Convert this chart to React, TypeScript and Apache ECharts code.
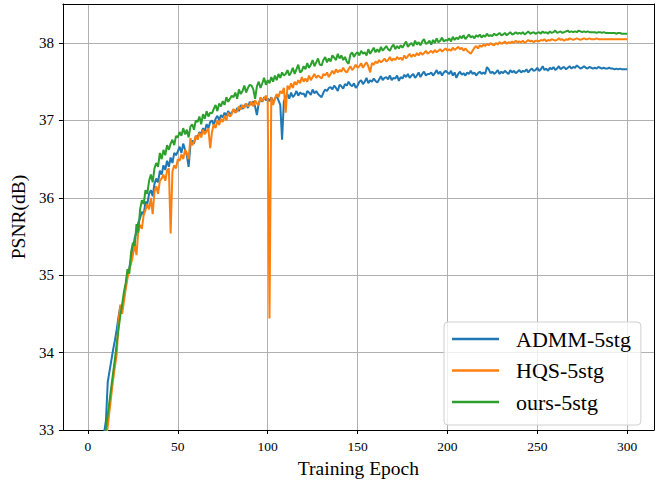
import React, { useEffect, useRef } from "react";
import * as echarts from "echarts";

// PSNR (dB) per training epoch, epochs 1..300
const admm: number[] = [
  30.2, 30.9, 31.5, 31.95, 32.3, 32.55, 32.75, 32.88, 32.97, 33.12,
  33.62, 33.76, 33.9, 34.04, 34.16, 34.3, 34.46, 34.6, 34.56, 34.72,
  34.86, 35.02, 35.1, 35.22, 35.34, 35.48, 35.56, 35.68, 35.74, 35.82,
  35.78, 35.95, 35.92, 36.05, 36.1, 36.02, 36.18, 36.25, 36.2, 36.35,
  36.3, 36.42, 36.36, 36.48, 36.4, 36.52, 36.45, 36.58, 36.55, 36.6,
  36.66, 36.58, 36.7, 36.62, 36.55, 36.4, 36.68, 36.74, 36.7, 36.8,
  36.78, 36.85, 36.82, 36.9, 36.86, 36.95, 36.9, 36.98, 37.0, 36.94,
  37.02, 37.06, 37.0, 37.07, 37.04, 37.1, 37.06, 37.12, 37.08, 37.1,
  37.14, 37.1, 37.16, 37.12, 37.2, 37.15, 37.18, 37.22, 37.16, 37.24,
  37.2, 37.25, 37.18, 37.07, 37.22, 37.28, 37.24, 37.3, 37.26, 37.28,
  37.25, 37.3, 37.22, 37.28, 37.32, 37.26, 37.2, 36.75, 37.25, 37.3,
  37.34, 37.28, 37.36, 37.3, 37.33, 37.38, 37.32, 37.36, 37.34, 37.35,
  37.3, 37.38, 37.36, 37.33, 37.4, 37.35, 37.38, 37.34, 37.32, 37.3,
  37.36, 37.4, 37.38, 37.42, 37.43, 37.4, 37.45, 37.42, 37.38, 37.46,
  37.44, 37.41, 37.47, 37.45, 37.5, 37.46, 37.44, 37.48, 37.42, 37.45,
  37.5, 37.52, 37.47, 37.5, 37.55, 37.48, 37.52, 37.5, 37.54, 37.51,
  37.49, 37.53, 37.57, 37.52, 37.55, 37.56, 37.53, 37.58, 37.52, 37.55,
  37.54, 37.58, 37.51, 37.56, 37.54, 37.59, 37.56, 37.6, 37.55, 37.58,
  37.6, 37.55, 37.58, 37.62, 37.56, 37.6, 37.63, 37.58, 37.6, 37.6,
  37.62, 37.58, 37.61, 37.65, 37.6, 37.63, 37.58, 37.62, 37.64, 37.62,
  37.6, 37.64, 37.58, 37.62, 37.55, 37.6, 37.63, 37.59, 37.61, 37.58,
  37.62, 37.6, 37.64, 37.6, 37.62, 37.58, 37.61, 37.63, 37.6, 37.62,
  37.6, 37.69, 37.66, 37.61, 37.63, 37.6, 37.62, 37.65, 37.6, 37.63,
  37.61, 37.64, 37.62, 37.6, 37.65, 37.62, 37.64, 37.61, 37.63, 37.65,
  37.62, 37.64, 37.63, 37.66, 37.62, 37.65, 37.67, 37.64, 37.65, 37.68,
  37.64, 37.66, 37.7, 37.65, 37.67, 37.64, 37.68, 37.66, 37.69, 37.65,
  37.67, 37.7, 37.66, 37.68, 37.69, 37.66, 37.68, 37.7, 37.67, 37.69,
  37.68, 37.71, 37.69, 37.67, 37.68, 37.7, 37.68, 37.67, 37.69, 37.68,
  37.67, 37.68, 37.67, 37.69, 37.68, 37.67, 37.68, 37.67, 37.67, 37.68,
  37.67, 37.67, 37.66, 37.67, 37.66, 37.67, 37.66, 37.66, 37.66, 37.66,
];

const hqs: number[] = [
  29.2, 30.0, 30.6, 31.1, 31.55, 31.9, 32.2, 32.45, 32.65, 32.85,
  33.05, 33.25, 33.45, 33.65, 33.82, 33.98, 34.4, 34.62, 34.5, 34.66,
  34.82, 34.96, 35.08, 35.15, 35.26, 35.4, 35.26, 35.58, 35.65, 35.6,
  35.78, 35.84, 35.92, 35.85, 36.0, 35.79, 36.08, 36.15, 36.05, 36.22,
  36.25, 36.3, 36.22, 36.35, 36.38, 35.54, 36.34, 36.42, 36.38, 36.5,
  36.48, 36.56, 36.5, 36.62, 36.58, 36.5, 36.77, 36.68, 36.72, 36.8,
  36.75, 36.84, 36.78, 36.88, 36.82, 36.86, 36.9, 36.64, 36.85, 36.95,
  36.9, 37.0, 36.94, 37.02, 36.98, 37.06, 37.0, 37.1, 37.05, 37.08,
  37.15, 37.1, 37.12, 37.18, 37.14, 37.2, 37.16, 37.22, 37.18, 37.2,
  37.24, 37.18, 37.26, 37.22, 37.2, 37.3, 37.25, 37.28, 37.32, 37.26,
  34.44, 37.3, 37.2, 37.28, 37.34, 37.3, 37.38, 37.35, 37.42, 37.1,
  37.45, 37.4, 37.48, 37.42, 37.5, 37.46, 37.52, 37.48, 37.56, 37.5,
  37.54, 37.5, 37.58, 37.52, 37.56, 37.6, 37.55, 37.58, 37.56, 37.54,
  37.6, 37.58, 37.62, 37.56, 37.6, 37.64, 37.6, 37.66, 37.62, 37.65,
  37.63, 37.68, 37.64, 37.62, 37.66, 37.7, 37.65, 37.68, 37.72, 37.68,
  37.7, 37.74, 37.68, 37.72, 37.75, 37.7, 37.62, 37.74, 37.72, 37.76,
  37.74, 37.78, 37.75, 37.77, 37.8, 37.76, 37.78, 37.82, 37.77, 37.8,
  37.78, 37.82, 37.79, 37.81, 37.78, 37.84, 37.8, 37.83, 37.86, 37.82,
  37.85, 37.83, 37.87, 37.84, 37.88, 37.85, 37.87, 37.9, 37.86, 37.88,
  37.9, 37.87, 37.91, 37.88, 37.9, 37.92, 37.89, 37.91, 37.93, 37.9,
  37.92, 37.9, 37.94, 37.91, 37.93, 37.95, 37.92, 37.94, 37.9, 37.93,
  37.9, 37.88, 37.86, 37.9, 37.94, 37.96, 37.93, 37.97, 37.95, 37.98,
  37.96, 37.99, 37.97, 38.0, 37.98, 37.97, 38.0, 37.98, 38.01, 37.99,
  38.0, 38.02, 37.99, 38.01, 38.0, 38.02, 38.0, 38.03, 38.01, 38.02,
  38.01, 38.03, 38.0, 38.02, 38.04, 38.02, 38.03, 38.01, 38.03, 38.03,
  38.02, 38.04, 38.03, 38.05, 38.02, 38.04, 38.03, 38.05, 38.04, 38.03,
  38.04, 38.06, 38.04, 38.05, 38.03, 38.05, 38.04, 38.06, 38.05, 38.04,
  38.05, 38.06, 38.05, 38.04, 38.05, 38.06, 38.05, 38.05, 38.06, 38.05,
  38.05, 38.05, 38.06, 38.05, 38.05, 38.05, 38.05, 38.05, 38.05, 38.05,
  38.05, 38.05, 38.05, 38.05, 38.05, 38.05, 38.05, 38.05, 38.05, 38.05,
];

const ours: number[] = [
  29.6, 30.4, 31.0, 31.5, 31.9, 32.2, 32.45, 32.65, 32.85, 33.02,
  33.2, 33.38, 33.56, 33.74, 33.92, 34.12, 34.3, 34.48, 34.62, 34.78,
  34.9, 35.08, 35.02, 35.3, 35.42, 35.38, 35.66, 35.55, 35.85, 35.97,
  35.92, 36.1, 36.05, 36.22, 36.3, 36.2, 36.38, 36.45, 36.4, 36.58,
  36.5, 36.62, 36.55, 36.68, 36.62, 36.7, 36.75, 36.68, 36.8, 36.78,
  36.85, 36.8, 36.9, 36.82, 36.88, 36.78, 36.92, 36.95, 36.88, 37.0,
  36.98, 37.05, 36.95, 37.08, 37.02, 37.12, 37.05, 37.1, 37.09, 37.15,
  37.2, 37.12, 37.22, 37.18, 37.25, 37.2, 37.3, 37.24, 37.28, 37.32,
  37.3, 37.36, 37.28, 37.4, 37.34, 37.38, 37.45, 37.36, 37.42, 37.46,
  37.45, 37.4, 37.28, 37.44, 37.5, 37.42, 37.48, 37.55, 37.46, 37.52,
  37.48, 37.56, 37.5, 37.58, 37.52, 37.6, 37.55, 37.62, 37.58, 37.6,
  37.65, 37.58, 37.62, 37.68, 37.6, 37.66, 37.72, 37.62, 37.64, 37.7,
  37.66, 37.74, 37.68, 37.72, 37.78, 37.7, 37.75, 37.8, 37.72, 37.71,
  37.78, 37.82, 37.75, 37.8, 37.76, 37.84, 37.81, 37.78, 37.86, 37.8,
  37.84, 37.78, 37.82, 37.76, 37.73, 37.85, 37.88, 37.82, 37.86, 37.88,
  37.84, 37.9, 37.86, 37.88, 37.84, 37.92, 37.86, 37.9, 37.94, 37.88,
  37.92, 37.88, 37.95, 37.9, 37.93, 37.96, 37.92, 37.9, 37.95, 37.98,
  37.92, 37.96, 37.93, 37.97, 37.94, 37.98, 38.02, 37.95, 37.98, 38.0,
  37.96, 38.03, 37.98, 38.01, 37.97, 38.02, 38.05, 37.99, 38.0, 38.03,
  37.98, 38.04, 38.0, 38.06, 38.01, 38.03, 38.07, 38.02, 38.04, 38.03,
  38.06, 38.02, 38.08, 38.04, 38.07, 38.05, 38.09, 38.06, 38.1, 38.05,
  38.08, 38.11, 38.07, 38.09, 38.06, 38.1, 38.08, 38.11, 38.07, 38.1,
  38.08, 38.12, 38.09, 38.1, 38.09, 38.12, 38.1, 38.11, 38.13, 38.1,
  38.11, 38.13, 38.1, 38.12, 38.14, 38.11, 38.12, 38.14, 38.12, 38.13,
  38.12, 38.14, 38.11, 38.13, 38.15, 38.12, 38.13, 38.14, 38.12, 38.13,
  38.14, 38.12, 38.15, 38.13, 38.14, 38.12, 38.15, 38.13, 38.14, 38.16,
  38.13, 38.14, 38.15, 38.13, 38.14, 38.15, 38.16, 38.14, 38.15, 38.14,
  38.15, 38.14, 38.16, 38.15, 38.14, 38.15, 38.14, 38.15, 38.14, 38.14,
  38.14, 38.14, 38.13, 38.14, 38.14, 38.13, 38.14, 38.13, 38.13, 38.13,
  38.13, 38.13, 38.13, 38.12, 38.13, 38.13, 38.12, 38.12, 38.12, 38.12,
];

const seriesNames = ["ADMM-5stg", "HQS-5stg", "ours-5stg"];
const seriesColors = ["#1f77b4", "#ff7f0e", "#2ca02c"];
const xTicks = [0, 50, 100, 150, 200, 250, 300];
const yTicks = [33, 34, 35, 36, 37, 38];

const FONT = '"Liberation Serif", "Times New Roman", serif';

export default function App() {
  const ref = useRef<HTMLDivElement>(null);

  useEffect(() => {
    if (!ref.current) return;
    const chart = echarts.init(ref.current, undefined, { renderer: "svg" });
    const all = [admm, hqs, ours];
    const toPairs = (arr: number[]) => arr.map((v, i) => [i + 1, v]);

    chart.setOption({
      animation: false,
      backgroundColor: "#ffffff",
      grid: { left: 61, top: 4, right: 3, bottom: 47, containLabel: false },
      legend: {
        show: true,
        orient: "vertical",
        left: 444,
        top: 322,
        padding: [6, 10, 12, 8],
        itemGap: 9.5,
        itemWidth: 47,
        itemHeight: 2.5,
        icon: "rect",
        backgroundColor: "rgba(255,255,255,0.8)",
        borderColor: "#d0d0d0",
        borderWidth: 1,
        borderRadius: 4,
        textStyle: {
          fontFamily: FONT,
          fontSize: 22,
          color: "#000",
          lineHeight: 22,
          padding: [0, 0, 0, 12],
        },
        data: seriesNames,
      },
      xAxis: [
        {
          type: "value",
          min: -13.95,
          max: 314.95,
          name: "Training Epoch",
          nameLocation: "middle",
          nameGap: 28,
          nameTextStyle: { fontFamily: FONT, fontSize: 19.5, color: "#000" },
          axisLine: { show: true, onZero: false, lineStyle: { color: "#000", width: 1 } },
          axisTick: { show: true, inside: false, length: 4, lineStyle: { color: "#000" }, customValues: xTicks },
          axisLabel: {
            show: true,
            margin: 9,
            fontFamily: FONT,
            fontSize: 13.5,
            color: "#000",
            customValues: xTicks,
            formatter: (v: number) => String(v),
          },
          splitLine: { show: true, lineStyle: { color: "#b0b0b0", width: 1 } },
        },
        {
          type: "value",
          position: "top",
          min: -13.95,
          max: 314.95,
          axisLine: { show: true, onZero: false, lineStyle: { color: "#000", width: 1 } },
          axisTick: { show: false },
          axisLabel: { show: false },
          splitLine: { show: false },
        },
      ],
      yAxis: [
        {
          type: "value",
          min: 33,
          max: 38.504,
          name: "PSNR(dB)",
          nameLocation: "middle",
          nameGap: 31,
          nameTextStyle: { fontFamily: FONT, fontSize: 19.5, color: "#000" },
          axisLine: { show: true, onZero: false, lineStyle: { color: "#000", width: 1 } },
          axisTick: { show: true, inside: false, length: 4, lineStyle: { color: "#000" }, customValues: yTicks },
          axisLabel: {
            show: true,
            margin: 9,
            fontFamily: FONT,
            fontSize: 15,
            color: "#000",
            customValues: yTicks,
            formatter: (v: number) => String(v),
          },
          splitLine: { show: true, lineStyle: { color: "#b0b0b0", width: 1 } },
        },
        {
          type: "value",
          position: "right",
          min: 33,
          max: 38.504,
          axisLine: { show: true, onZero: false, lineStyle: { color: "#000", width: 1 } },
          axisTick: { show: false },
          axisLabel: { show: false },
          splitLine: { show: false },
        },
      ],
      series: all.map((arr, k) => ({
        name: seriesNames[k],
        type: "line",
        xAxisIndex: 0,
        yAxisIndex: 0,
        data: toPairs(arr),
        showSymbol: false,
        symbol: "none",
        clip: true,
        lineStyle: { color: seriesColors[k], width: 2 },
        itemStyle: { color: seriesColors[k] },
        z: 2 + k,
      })),
    });

    return () => chart.dispose();
  }, []);

  return (
    <div
      ref={ref}
      style={{ position: "fixed", left: 0, top: 0, width: 657, height: 483, background: "#fff" }}
    />
  );
}
